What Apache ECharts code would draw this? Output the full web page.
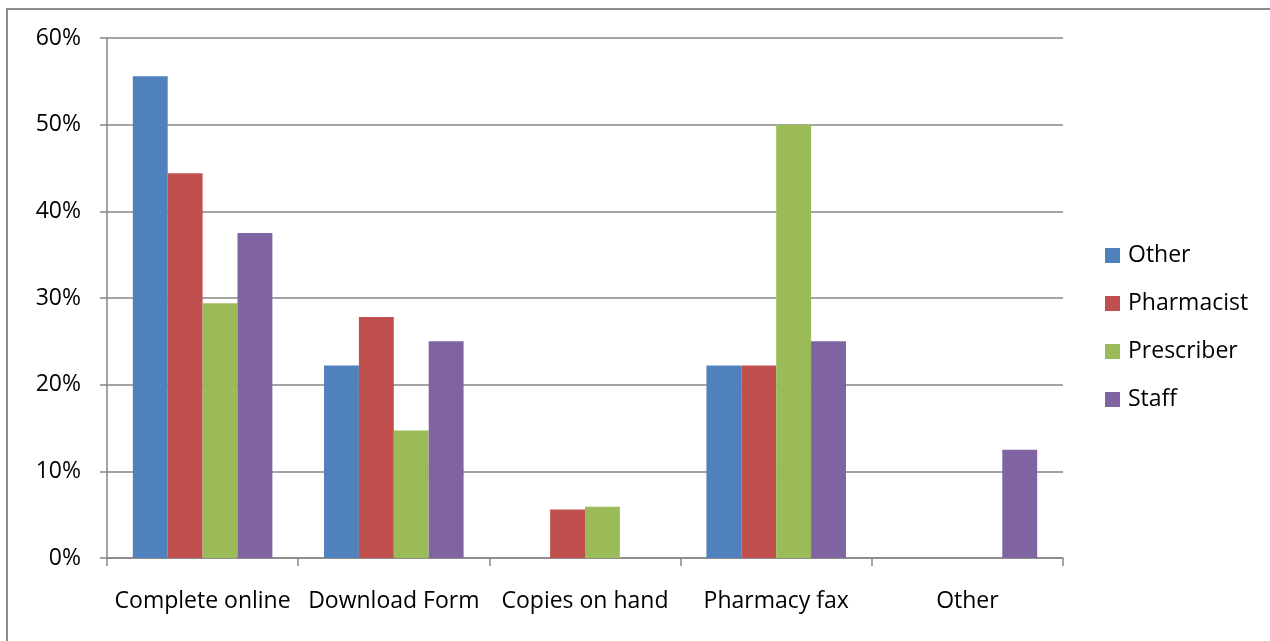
<!DOCTYPE html>
<html>
<head>
<meta charset="utf-8">
<script src="https://cdn.jsdelivr.net/npm/echarts@6/dist/echarts.min.js"></script>
<style>
  html, body { margin: 0; padding: 0; background: #fff; }
  #frame { position: absolute; left: 6px; top: 8px; width: 1300px; height: 700px;
           border-left: 2px solid #8c8c8c; border-top: 2px solid #8c8c8c; }
  #chart { position: absolute; left: 0; top: 0; width: 1270px; height: 641px; }
</style>
</head>
<body>
<div id="frame"></div>
<div id="chart"></div>
<script>
// How each group submits the request form (share of respondents, %)
const categories = ['Complete online', 'Download Form', 'Copies on hand', 'Pharmacy fax', 'Other'];
const otherValues      = [55.6, 22.2, 0,   22.2, 0];
const pharmacistValues = [44.4, 27.8, 5.6, 22.2, 0];
const prescriberValues = [29.4, 14.7, 5.9, 50.0, 0];
const staffValues      = [37.5, 25.0, 0,   25.0, 12.5];
const seriesNames = ['Other', 'Pharmacist', 'Prescriber', 'Staff'];
const seriesColors = ['#4F81BD', '#C0504D', '#9BBB59', '#8064A2'];
const yTicks = [0, 10, 20, 30, 40, 50, 60];

const font = '"Open Sans", "Noto Sans", sans-serif';
const seriesData = [otherValues, pharmacistValues, prescriberValues, staffValues];

const chart = echarts.init(document.getElementById('chart'), null, { renderer: 'canvas' });
chart.setOption({
  animation: false,
  backgroundColor: 'transparent',
  textStyle: { fontFamily: font },
  grid: { left: 107, right: 207, top: 38, bottom: 83, containLabel: false },
  legend: {
    orient: 'vertical',
    left: 1100,
    top: 239,
    itemWidth: 15,
    itemHeight: 15,
    itemGap: 25,
    icon: 'rect',
    textStyle: { fontFamily: font, fontSize: 23, color: '#000', padding: [0, 0, 0, 3] },
    data: seriesNames
  },
  xAxis: {
    type: 'category',
    data: categories,
    axisLine: { lineStyle: { color: '#868686', width: 1.5 } },
    axisTick: { show: true, length: 8, lineStyle: { color: '#868686', width: 1.5 } },
    axisLabel: { color: '#000', fontSize: 23, fontFamily: font, margin: 32, interval: 0 }
  },
  yAxis: {
    type: 'value',
    min: yTicks[0],
    max: yTicks[yTicks.length - 1],
    interval: 10,
    axisLine: { show: true, lineStyle: { color: '#868686', width: 1.5 } },
    axisTick: { show: true, length: 7, lineStyle: { color: '#868686', width: 1.5 } },
    splitLine: { show: true, lineStyle: { color: '#868686', width: 1.5 } },
    axisLabel: { color: '#000', fontSize: 23, fontFamily: font, margin: 26,
                 formatter: v => v + '%' }
  },
  series: seriesNames.map((name, i) => ({
    name: name,
    type: 'bar',
    data: seriesData[i],
    barGap: '0%',
    barCategoryGap: '27%',
    itemStyle: { color: seriesColors[i] }
  }))
});
</script>
</body>
</html>
